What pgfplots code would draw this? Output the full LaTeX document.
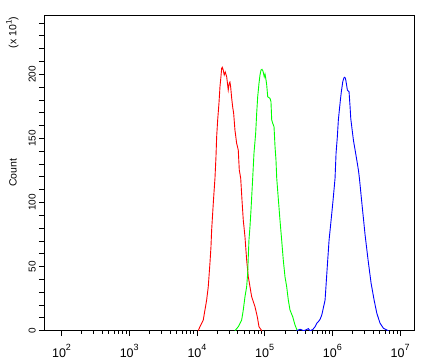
\documentclass[border=0pt]{standalone}
\usepackage{fontspec}
\setmainfont{Liberation Sans}
\usepackage{pgfplots}
\usepackage{pgfplotstable}
\pgfplotsset{compat=1.18}

\pgfplotstableread{
lx y
4.019 0
4.044 3.1
4.093 8.3
4.118 16.1
4.143 23.9
4.167 34.3
4.192 52.8
4.207 65.5
4.217 78.5
4.226 86.3
4.244 101.9
4.266 118.9
4.281 135.7
4.291 151.3
4.306 164.4
4.325 177.4
4.340 190.3
4.354 198.1
4.365 204.7
4.374 205.5
4.388 203.4
4.403 199.5
4.418 201.8
4.439 198.1
4.462 187.8
4.477 193.2
4.487 194.0
4.498 190.1
4.513 181.3
4.527 174.7
4.542 169.6
4.561 156.6
4.586 146.2
4.610 141.0
4.625 125.4
4.646 118.9
4.665 101.9
4.684 86.3
4.709 73.3
4.734 55.1
4.758 42.1
4.783 34.3
4.808 26.5
4.857 18.7
4.891 10.9
4.916 3.1
4.956 0
}\redtab

\pgfplotstableread{
lx y
4.561 0
4.610 3.1
4.660 8.3
4.684 16.1
4.709 26.5
4.734 34.3
4.749 44.8
4.758 57.7
4.768 70.7
4.783 81.1
4.798 94.1
4.810 105.9
4.823 118.9
4.842 138.4
4.867 154.0
4.882 169.6
4.897 182.5
4.916 193.0
4.931 199.5
4.946 203.4
4.960 203.9
4.975 202.6
4.994 198.1
5.005 200.2
5.020 195.6
5.030 191.7
5.045 182.5
5.079 181.3
5.093 178.6
5.104 164.4
5.119 161.8
5.138 159.1
5.153 143.5
5.167 133.1
5.178 118.9
5.197 105.9
5.226 86.3
5.251 70.7
5.275 55.1
5.300 42.1
5.325 34.3
5.349 23.9
5.374 16.1
5.414 10.9
5.448 4.4
5.482 0
}\greentab

\pgfplotstableread{
lx y
5.473 0
5.522 1.1
5.581 0
5.645 1.6
5.670 0
5.710 0.9
5.744 3.1
5.769 5.8
5.792 7.0
5.818 8.9
5.843 12.2
5.866 17.7
5.892 23.9
5.921 47.3
5.951 70.7
5.981 86.3
6.010 101.9
6.039 118.9
6.054 138.4
6.073 151.3
6.088 164.4
6.103 172.2
6.118 180.0
6.132 186.4
6.153 194.2
6.168 196.9
6.177 197.7
6.192 197.1
6.206 193.0
6.221 187.8
6.246 186.4
6.261 174.7
6.271 165.7
6.295 155.2
6.310 148.8
6.335 141.0
6.360 133.1
6.384 125.4
6.399 118.9
6.438 98.1
6.483 74.6
6.527 55.1
6.571 37.2
6.616 23.9
6.656 13.6
6.704 5.8
6.753 1.9
6.827 0
}\bluetab

\begin{document}
\begin{tikzpicture}
\useasboundingbox (-44.3pt,-30.3pt) rectangle (385.7pt,330.7pt);
\begin{axis}[
  at={(0pt,0pt)}, anchor=south west,
  scale only axis,
  width=370pt, height=315.7pt,
  xmode=log,
  xmin=55.7, xmax=1.62e7,
  ymin=0, ymax=246.3,
  axis line style={line width=0.9pt},
  tick align=outside,
  xtick pos=bottom, ytick pos=left,
  xtick={1e2,1e3,1e4,1e5,1e6,1e7},
  xticklabels={10\raisebox{0.5em}{\fontsize{9}{9}\selectfont 2},
               10\raisebox{0.5em}{\fontsize{9}{9}\selectfont 3},
               10\raisebox{0.5em}{\fontsize{9}{9}\selectfont 4},
               10\raisebox{0.5em}{\fontsize{9}{9}\selectfont 5},
               10\raisebox{0.5em}{\fontsize{9}{9}\selectfont 6},
               10\raisebox{0.5em}{\fontsize{9}{9}\selectfont 7}},
  ytick={0,10,...,240},
  yticklabels={0,,,,,50,,,,,100,,,,,150,,,,,200,,,,},
  major tick length=5.5pt,
  minor tick length=3pt,
  every tick/.append style={line width=0.8pt, black},
  every minor tick/.append style={line width=0.8pt, black},
  /pgf/number format/assume math mode=true,
  xticklabel style={font=\fontsize{12.5}{13}\selectfont, anchor=base, inner sep=0pt, yshift=-21pt},
  yticklabel style={font=\fontsize{10}{10}\selectfont, rotate=90, anchor=south, inner sep=0pt},
  yticklabel shift=3pt,
]
\addplot[red, line width=0.9pt] table[x expr=10^\thisrow{lx}, y=y] {\redtab};
\addplot[green, line width=0.9pt] table[x expr=10^\thisrow{lx}, y=y] {\greentab};
\addplot[blue, line width=0.9pt] table[x expr=10^\thisrow{lx}, y=y] {\bluetab};
\end{axis}
\node[rotate=90, font=\fontsize{10.5}{11}\selectfont] at (-31.3pt,158pt) {Count};
\node[rotate=90, font=\fontsize{10.5}{11}\selectfont] at (-32pt,298.2pt) {(x 10\raisebox{0.45em}{\fontsize{8}{8}\selectfont 1})};
\end{tikzpicture}
\end{document}
